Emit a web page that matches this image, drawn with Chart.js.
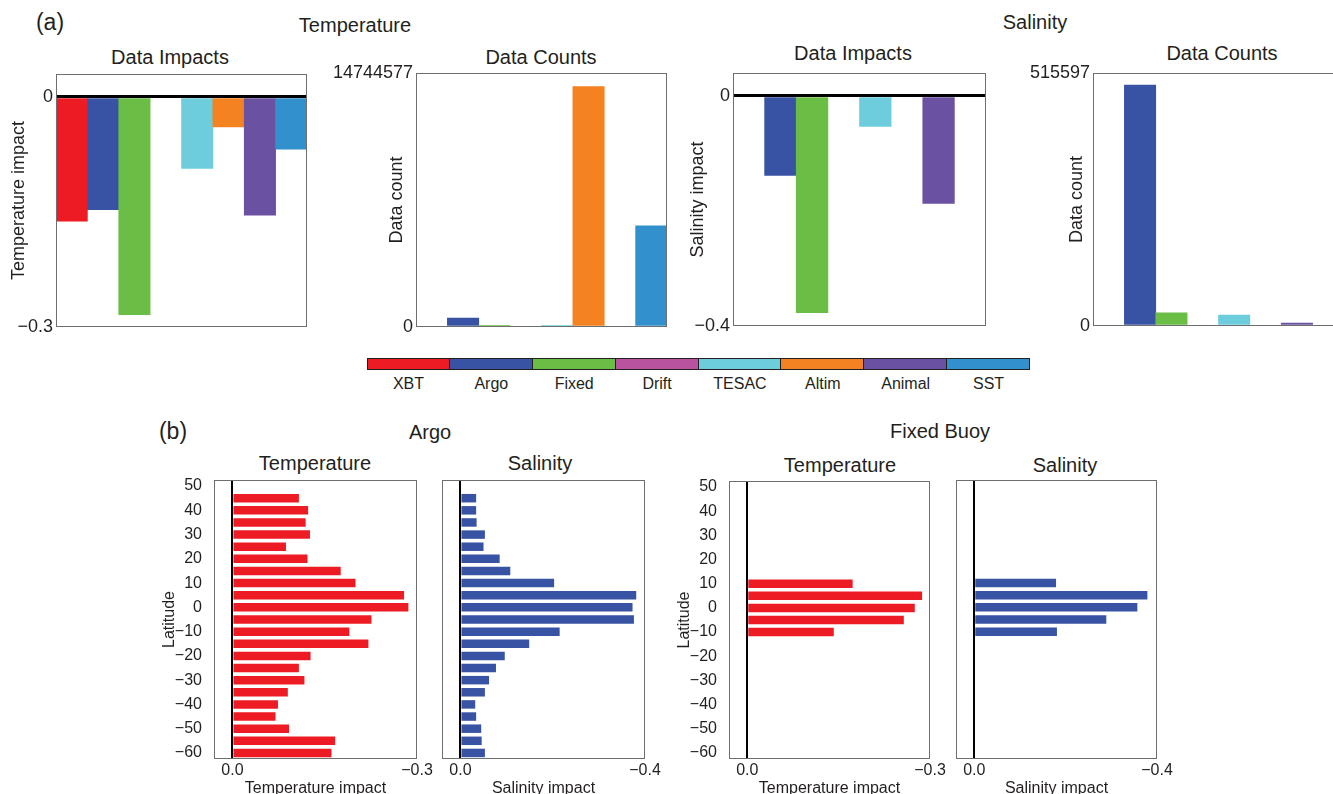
<!DOCTYPE html>
<html lang="en">
<head>
<meta charset="UTF-8" />
<title>Data impacts by platform</title>
<script src="https://cdn.jsdelivr.net/npm/chart.js"></script>
<style>
  body {
    margin: 0;
    width: 1333px;
    height: 794px;
    overflow: hidden;
    position: relative;
    background: #fff;
    font-family: 'Liberation Sans', Arial, sans-serif;
    color: #231f20;
  }
  .txt { position: absolute; transform: translate(-50%, -50%); white-space: nowrap; font-size: 20px; }
  .tag { font-size: 23px; }
  canvas { position: absolute; }
  #legend { position: absolute; left: 367px; top: 358px; width: 663px; display: flex; }
  .key { flex: 1; text-align: center; font-size: 16px; }
  .swatch { height: 10px; border: 1px solid #231f20; border-left: none; }
  .key:first-child .swatch { border-left: 1px solid #231f20; }
  .key span { display: block; margin-top: 5px; }
</style>
</head>
<body>
  <!-- panel headers -->
  <div class="txt tag" style="left:50px; top:22px">(a)</div>
  <div class="txt" style="left:355px; top:25px">Temperature</div>
  <div class="txt" style="left:1035px; top:22px">Salinity</div>
  <div class="txt" style="left:170px; top:57px">Data Impacts</div>
  <div class="txt" style="left:541px; top:57px">Data Counts</div>
  <div class="txt" style="left:853px; top:53px">Data Impacts</div>
  <div class="txt" style="left:1222px; top:53px">Data Counts</div>

  <div id="legend"></div>

  <div class="txt tag" style="left:173px; top:431px">(b)</div>
  <div class="txt" style="left:430px; top:432px">Argo</div>
  <div class="txt" style="left:940px; top:431px">Fixed Buoy</div>
  <div class="txt" style="left:315px; top:463px">Temperature</div>
  <div class="txt" style="left:540px; top:463px">Salinity</div>
  <div class="txt" style="left:840px; top:465px">Temperature</div>
  <div class="txt" style="left:1065px; top:465px">Salinity</div>

  <script>
    // observation platforms (shared by panel a and the legend)
    const categories = ['XBT', 'Argo', 'Fixed', 'Drift', 'TESAC', 'Altim', 'Animal', 'SST'];
    const categoryColors = ['#ed1c24', '#3953a4', '#6abd45', '#b9529f', '#6dcddd', '#f58220', '#6b51a2', '#3290cd'];

    const tempImpact = [-0.162, -0.147, -0.284, null, -0.093, -0.039, -0.154, -0.068];
    const tempCount = [null, 522000, 60000, null, 45000, 13950000, null, 5880000];
    const tempCountMax = 14744577;

    const salImpact = [null, -0.138, -0.377, null, -0.053, null, -0.187, null];
    const salCount = [null, 491000, 27000, null, 22000, null, 6000, null];
    const salCountMax = 515597;

    // latitude bands for panel b, north to south
    const latitudes = [50, 45, 40, 35, 30, 25, 20, 15, 10, 5, 0, -5, -10, -15, -20, -25, -30, -35, -40, -45, -50, -55, -60];
    const argoTemp = [null, -0.108, -0.123, -0.119, -0.126, -0.087, -0.122, -0.176, -0.200, -0.279, -0.286, -0.226,
                      -0.190, -0.221, -0.127, -0.108, -0.117, -0.090, -0.074, -0.070, -0.092, -0.167, -0.161];
    const argoSal = [null, -0.034, -0.034, -0.035, -0.053, -0.050, -0.085, -0.108, -0.203, -0.381, -0.373, -0.376,
                     -0.215, -0.149, -0.096, -0.077, -0.062, -0.053, -0.032, -0.034, -0.045, -0.046, -0.053];
    const fixedTemp = [null, null, null, null, null, null, null, null, -0.173, -0.287, -0.275, -0.257, -0.142,
                       null, null, null, null, null, null, null, null, null, null];
    const fixedSal = [null, null, null, null, null, null, null, null, -0.179, -0.379, -0.357, -0.289, -0.181,
                      null, null, null, null, null, null, null, null, null, null];

    const ink = '#231f20';
    Chart.defaults.font.family = "'Liberation Sans', Arial, sans-serif";
    Chart.defaults.color = ink;

    // legend strip
    const legend = document.getElementById('legend');
    categories.forEach((name, i) => {
      const key = document.createElement('div');
      key.className = 'key';
      key.innerHTML = '<div class="swatch" style="background:' + categoryColors[i] + '"></div><span>' + name + '</span>';
      legend.appendChild(key);
    });

    // box around each plot area
    const framePlugin = {
      id: 'frame',
      afterDraw(chart) {
        const { ctx, chartArea: a } = chart;
        ctx.save();
        ctx.strokeStyle = '#6d6e71';
        ctx.lineWidth = 1;
        ctx.strokeRect(a.left + 0.5, a.top + 0.5, a.right - a.left - 1, a.bottom - a.top - 1);
        ctx.restore();
      }
    };

    function addCanvas(left, top, width, height) {
      const c = document.createElement('canvas');
      c.width = width;
      c.height = height;
      c.style.left = left + 'px';
      c.style.top = top + 'px';
      document.body.appendChild(c);
      return c;
    }

    const minus = v => (v < 0 ? '\u2212' : '') + Math.abs(v);

    // panel a: one bar per platform
    function platformPanel(pos, values, axis) {
      const canvas = addCanvas(pos.left, pos.top, pos.width, pos.height);
      new Chart(canvas, {
        type: 'bar',
        data: {
          labels: categories,
          datasets: [{ data: values, backgroundColor: categoryColors, barPercentage: 1, categoryPercentage: 1 }]
        },
        options: {
          responsive: false,
          animation: false,
          layout: { padding: pos.pad },
          plugins: { legend: { display: false }, tooltip: { enabled: false } },
          scales: {
            x: { display: false },
            y: {
              min: axis.min,
              max: axis.max,
              afterBuildTicks: s => { s.ticks = axis.ticks.map(v => ({ value: v })); },
              afterFit: s => { s.width = pos.axisWidth; },
              grid: {
                drawTicks: false,
                z: 1,
                lineWidth: 3,
                color: c => (axis.zeroLine && c.tick && c.tick.value === 0) ? '#000' : 'transparent'
              },
              border: { display: false },
              ticks: { padding: 3, font: { size: 18 }, callback: axis.format },
              title: { display: true, text: axis.title, padding: { top: pos.titleGap, bottom: 4 }, font: { size: 18 } }
            }
          }
        },
        plugins: [framePlugin]
      });
    }

    platformPanel(
      { left: 0, top: 58, width: 320, height: 285, axisWidth: 52, titleGap: 4,
        pad: { left: 4, top: 16, right: 13, bottom: 16 } },
      tempImpact,
      { min: -0.3, max: 0.03, ticks: [-0.3, 0], zeroLine: true, format: minus, title: 'Temperature impact' }
    );
    platformPanel(
      { left: 320, top: 57, width: 360, height: 286, axisWidth: 92, titleGap: 62,
        pad: { left: 4, top: 16, right: 13, bottom: 16 } },
      tempCount,
      { min: 0, max: tempCountMax, ticks: [0, tempCountMax], zeroLine: false, format: v => String(v), title: 'Data count' }
    );
    platformPanel(
      { left: 670, top: 57, width: 329, height: 285, axisWidth: 50, titleGap: 4,
        pad: { left: 13, top: 16, right: 13, bottom: 16 } },
      salImpact,
      { min: -0.4, max: 0.04, ticks: [-0.4, 0], zeroLine: true, format: minus, title: 'Salinity impact' }
    );
    platformPanel(
      { left: 1020, top: 57, width: 330, height: 285, axisWidth: 69, titleGap: 42,
        pad: { left: 4, top: 16, right: 6, bottom: 16 } },
      salCount,
      { min: 0, max: salCountMax, ticks: [0, salCountMax], zeroLine: false, format: v => String(v), title: 'Data count' }
    );

    // panel b: horizontal bars by latitude band
    function latitudePanel(pos, values, color, axis) {
      const canvas = addCanvas(pos.left, pos.top, pos.width, pos.height);
      new Chart(canvas, {
        type: 'bar',
        data: {
          labels: latitudes,
          datasets: [{ data: values, backgroundColor: color, barPercentage: 0.7, categoryPercentage: 1 }]
        },
        options: {
          indexAxis: 'y',
          responsive: false,
          animation: false,
          layout: { padding: pos.pad },
          plugins: { legend: { display: false }, tooltip: { enabled: false } },
          scales: {
            y: {
              display: pos.showLat,
              afterFit: s => { s.width = pos.axisWidth; },
              grid: { display: false },
              border: { display: false },
              ticks: {
                autoSkip: false,
                padding: 4,
                font: { size: 16 },
                callback(v) {
                  const lat = this.getLabelForValue(v);
                  return lat % 10 === 0 ? minus(lat) : '';
                }
              },
              title: { display: true, text: 'Latitude', font: { size: 16 } }
            },
            x: {
              reverse: true,
              min: axis.min,
              max: axis.max,
              afterBuildTicks: s => { s.ticks = [{ value: axis.min }, { value: 0 }]; },
              afterFit: s => { s.height = 39; },
              grid: {
                drawTicks: false,
                z: 1,
                lineWidth: 2,
                color: c => (c.tick && c.tick.value === 0) ? '#000' : 'transparent'
              },
              border: { display: false },
              ticks: {
                padding: 2,
                maxRotation: 0,
                font: { size: 16 },
                callback: v => (v < 0 ? '\u2212' : '') + Math.abs(v).toFixed(1)
              },
              title: { display: true, text: axis.title, padding: { top: 0, bottom: 0 }, font: { size: 16 } }
            }
          }
        },
        plugins: [framePlugin]
      });
    }

    const tempAxis = { min: -0.3, max: 0.03, title: 'Temperature impact' };
    const salAxis = { min: -0.4, max: 0.04, title: 'Salinity impact' };

    latitudePanel({ left: 150, top: 464, width: 289, height: 334, axisWidth: 58, showLat: true,
                    pad: { left: 6, top: 16, right: 22, bottom: 0 } }, argoTemp, '#ed1c24', tempAxis);
    latitudePanel({ left: 430, top: 464, width: 237, height: 334, axisWidth: 0, showLat: false,
                    pad: { left: 12, top: 16, right: 22, bottom: 0 } }, argoSal, '#3953a4', salAxis);
    latitudePanel({ left: 665, top: 465, width: 287, height: 333, axisWidth: 58, showLat: true,
                    pad: { left: 6, top: 16, right: 22, bottom: 0 } }, fixedTemp, '#ed1c24', tempAxis);
    latitudePanel({ left: 944, top: 464, width: 235, height: 334, axisWidth: 0, showLat: false,
                    pad: { left: 12, top: 16, right: 22, bottom: 0 } }, fixedSal, '#3953a4', salAxis);
  </script>
</body>
</html>
